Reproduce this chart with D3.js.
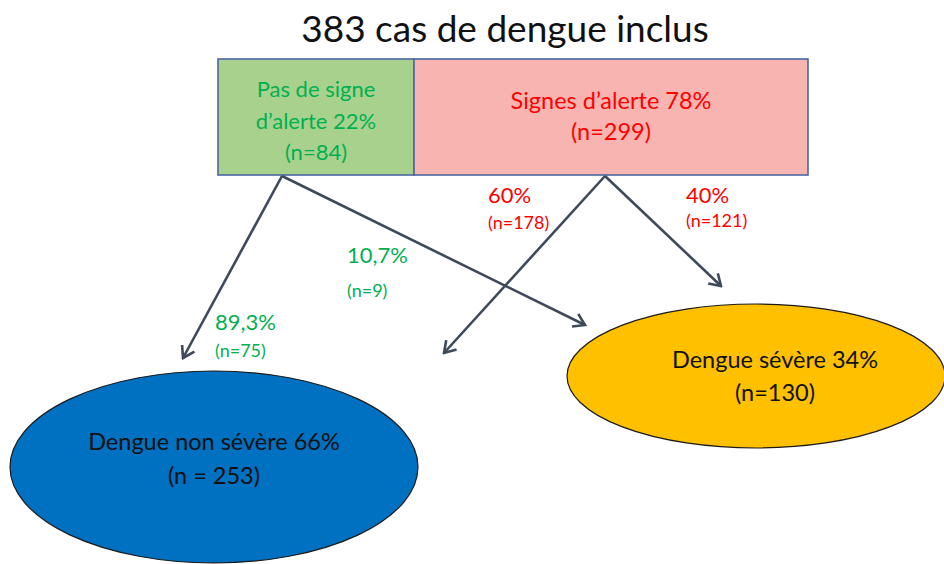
<!DOCTYPE html>
<html>
<head>
<meta charset="utf-8">
<script src="https://cdn.jsdelivr.net/npm/d3@7"></script>
<style>
  body { margin: 0; background: #fff; }
  svg { display: block; }
</style>
</head>
<body>
<svg id="chart"></svg>
<script>
"use strict";

// ---- data ----
const title        = "383 cas de dengue inclus";
const groupNames   = ["Pas de signe d’alerte", "Signes d’alerte"];
const groupPct     = [22, 78];
const groupN       = [84, 299];
const outcomeNames = ["Dengue non sévère", "Dengue sévère"];
const outcomePct   = [66, 34];
const outcomeN     = [253, 130];
// flows : group -> outcome
const flowFrom = [0, 0, 1, 1];
const flowTo   = [0, 1, 0, 1];
const flowPct  = [89.3, 10.7, 60, 40];
const flowN    = [75, 9, 178, 121];

// ---- layout (diagram, pixels) ----
const width = 944, height = 564;
const font = "Lato, 'Open Sans', sans-serif";

const boxTop = 59, boxH = 116, boxLeft = 218;
const boxW = [196, 394];
const boxFill = ["#a9d18e", "#f8b4b0"];
const boxInk  = ["#00b050", "#ff0000"];
// how each box label is broken into lines
const boxLines = [
  (i) => ["Pas de signe", "d’alerte " + groupPct[i] + "%", "(n=" + groupN[i] + ")"],
  (i) => [groupNames[i] + " " + groupPct[i] + "%", "(n=" + groupN[i] + ")"]
];
const boxBase = [[97, 129, 160], [109, 140]];
const boxSize = [22, 23.5];
const boxAnchorX = [282, 605];

const ell = [
  { cx: 214, cy: 467, rx: 204, ry: 96, fill: "#0070c0", tx: 214, ty: [450, 484], nsep: " = " },
  { cx: 756, cy: 376, rx: 189, ry: 72, fill: "#ffc000", tx: 775, ty: [368, 401], nsep: "=" }
];

// arrow tips and label spots for each flow
const flowTip   = [[183, 358], [585, 325], [444, 353], [721, 286]];
const flowLabel = [[215, 330, 357], [347, 263, 297], [488, 203, 229], [686, 203, 227]];

// ---- formatting ----
const fr = d3.formatLocale({ decimal: ",", thousands: " ", grouping: [3], currency: ["", " €"] });
const pctFmt = (v) => (Number.isInteger(v) ? fr.format("d")(v) : fr.format(".1f")(v)) + "%";

const svg = d3.select("#chart")
    .attr("width", width)
    .attr("height", height)
    .attr("viewBox", `0 0 ${width} ${height}`)
    .style("font-family", font);

// arrow marker
svg.append("defs").append("marker")
    .attr("id", "arrow")
    .attr("markerUnits", "userSpaceOnUse")
    .attr("viewBox", "-14 -10 16 20")
    .attr("refX", 0).attr("refY", 0)
    .attr("markerWidth", 16).attr("markerHeight", 20)
    .attr("orient", "auto")
  .append("path")
    .attr("d", "M-11,-7 L0,0 L-11,7")
    .attr("fill", "none")
    .attr("stroke", "#3e4a5b")
    .attr("stroke-width", 2.6)
    .attr("stroke-linejoin", "miter");

// title
svg.append("text")
    .attr("x", 505).attr("y", 42)
    .attr("text-anchor", "middle")
    .style("font-size", "37px")
    .style("fill", "#111")
    .text(title);

// group boxes
const boxX = boxW.map((w, i) => boxLeft + d3.sum(boxW.slice(0, i)));
const boxes = svg.selectAll(".grp")
    .data(groupNames)
  .enter().append("g")
    .attr("class", "grp");

boxes.append("rect")
    .attr("x", (d, i) => boxX[i])
    .attr("y", boxTop)
    .attr("width", (d, i) => boxW[i])
    .attr("height", boxH)
    .attr("fill", (d, i) => boxFill[i])
    .attr("stroke", "#4a67a3")
    .attr("stroke-width", 1.6);

boxes.each(function (d, i) {
  const g = d3.select(this);
  boxLines[i](i).forEach((line, k) => {
    g.append("text")
        .attr("x", boxX[i] + boxW[i] / 2)
        .attr("y", boxBase[i][k])
        .attr("text-anchor", "middle")
        .style("font-size", boxSize[i] + "px")
        .style("fill", boxInk[i])
        .text(line);
  });
});

// outcome ellipses
const outs = svg.selectAll(".out")
    .data(outcomeNames)
  .enter().append("g")
    .attr("class", "out");

outs.append("ellipse")
    .attr("cx", (d, i) => ell[i].cx)
    .attr("cy", (d, i) => ell[i].cy)
    .attr("rx", (d, i) => ell[i].rx)
    .attr("ry", (d, i) => ell[i].ry)
    .attr("fill", (d, i) => ell[i].fill)
    .attr("stroke", "#1b1b1b")
    .attr("stroke-width", 1.2);

outs.append("text")
    .attr("x", (d, i) => ell[i].tx)
    .attr("y", (d, i) => ell[i].ty[0])
    .attr("text-anchor", "middle")
    .style("font-size", "23.5px")
    .style("fill", "#111")
    .text((d, i) => d + " " + outcomePct[i] + "%");

outs.append("text")
    .attr("x", (d, i) => ell[i].tx)
    .attr("y", (d, i) => ell[i].ty[1])
    .attr("text-anchor", "middle")
    .style("font-size", "23.5px")
    .style("fill", "#111")
    .text((d, i) => "(n" + ell[i].nsep + outcomeN[i] + ")");

// flows
const flows = svg.selectAll(".flow")
    .data(flowPct)
  .enter().append("g")
    .attr("class", "flow");

flows.append("line")
    .attr("x1", (d, i) => boxAnchorX[flowFrom[i]])
    .attr("y1", boxTop + boxH + 1)
    .attr("x2", (d, i) => flowTip[i][0])
    .attr("y2", (d, i) => flowTip[i][1])
    .attr("stroke", "#3e4a5b")
    .attr("stroke-width", 2.6)
    .attr("marker-end", "url(#arrow)");

flows.append("text")
    .attr("x", (d, i) => flowLabel[i][0])
    .attr("y", (d, i) => flowLabel[i][1])
    .style("font-size", "22px")
    .style("fill", (d, i) => boxInk[flowFrom[i]])
    .text((d) => pctFmt(d));

flows.append("text")
    .attr("x", (d, i) => flowLabel[i][0])
    .attr("y", (d, i) => flowLabel[i][2])
    .style("font-size", "18px")
    .style("fill", (d, i) => boxInk[flowFrom[i]])
    .text((d, i) => "(n=" + flowN[i] + ")");
</script>
</body>
</html>
